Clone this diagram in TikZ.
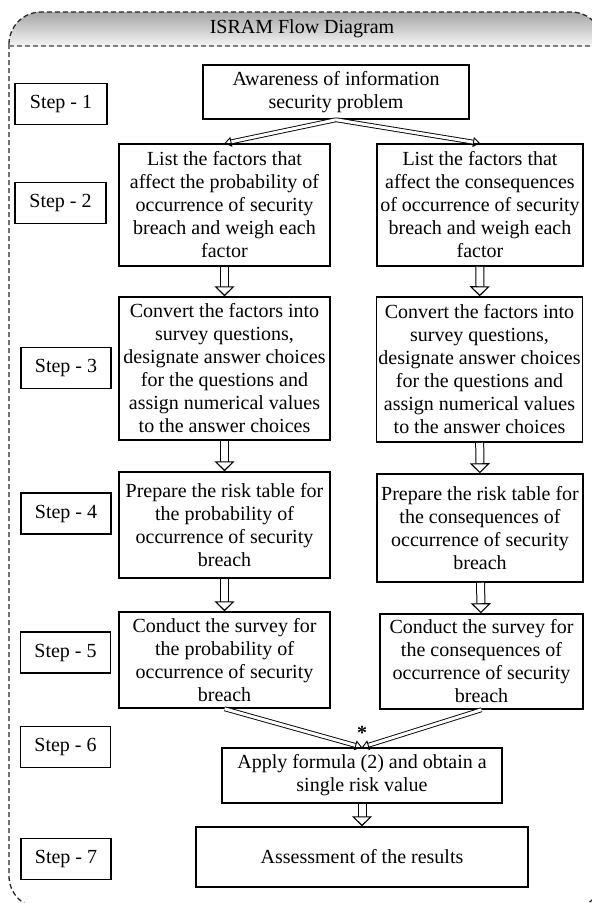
\documentclass[tikz,border=0pt]{standalone}
\usepackage{fontspec}
\setmainfont{Liberation Serif}
\usetikzlibrary{arrows.meta}

\begin{document}
\begin{tikzpicture}[x=1pt, y=-1pt,
        stepbox/.style={rectangle, draw, line width=1.5pt, minimum width=90pt, minimum height=41pt, inner sep=0pt, font=\fontsize{20}{23}\selectfont},
        flowbox/.style={rectangle, draw, line width=1.5pt, align=center, inner sep=0pt, minimum width=211pt, font=\fontsize{20}{23}\selectfont},
        hollow/.style={double, double distance=7pt, line width=1pt, -{Triangle[open, length=10pt, width=20pt, line width=1.1pt 0 0]}},
        slim/.style={double, double distance=3pt, line width=0.9pt, -{Triangle[open, length=7pt, width=10pt, line width=0.9pt 0 0]}},
        frameline/.style={dash pattern=on 5pt off 3pt, line width=1.3pt, draw=black!85}
    ]
        \useasboundingbox (0,0) rectangle (592,903);

        % Frame with shaded header
        \begin{scope}
            \clip[rounded corners=32pt] (9,12) rectangle (603,908);
            \shade[top color=gray!70, bottom color=gray!8] (9,12) rectangle (603,46);
        \end{scope}
        \draw[frameline, rounded corners=32pt] (9,12) rectangle (603,908);
        \draw[dash pattern=on 5pt off 3pt, line width=1.6pt, draw=gray] (9,46) -- (603,46);
        \node[font=\fontsize{20}{23}\selectfont] (title) at (302,29) {ISRAM Flow Diagram};

        % Step labels
        \node[stepbox, minimum width=92pt] (step1) at (61,104) {Step - 1};
        \node[stepbox, minimum width=91pt] (step2) at (60.5,203) {Step - 2};
        \node[stepbox] (step3) at (66,368) {Step - 3};
        \node[stepbox] (step4) at (66,513.5) {Step - 4};
        \node[stepbox] (step5) at (65.5,652.5) {Step - 5};
        \node[stepbox] (step6) at (65.5,747) {Step - 6};
        \node[stepbox] (step7) at (66,859) {Step - 7};

        % Flow boxes
        \node[flowbox, minimum width=266pt, minimum height=54pt] (aware) at (336,92) {Awareness of information\\security problem};
        \node[flowbox, minimum height=122pt] (list1) at (224.5,205) {List the factors that\\affect the probability of\\occurrence of security\\breach and weigh each\\factor};
        \node[flowbox, minimum width=206pt, minimum height=122pt] (list2) at (480,205) {List the factors that\\affect the consequences\\of occurrence of security\\breach and weigh each\\factor};
        \node[flowbox, minimum height=143pt] (conv1) at (224.5,368.5) {Convert the factors into\\survey questions,\\designate answer choices\\for the questions and\\assign numerical values\\to the answer choices};
        \node[flowbox, minimum width=206pt, minimum height=145pt] (conv2) at (479.5,369.5) {Convert the factors into\\survey questions,\\designate answer choices\\for the questions and\\assign numerical values\\to the answer choices};
        \node[flowbox, minimum height=106pt] (prep1) at (224.5,525) {Prepare the risk table for\\the probability of\\occurrence of security\\breach};
        \node[flowbox, minimum width=206pt, minimum height=108pt] (prep2) at (480,528) {Prepare the risk table for\\the consequences of\\occurrence of security\\breach};
        \node[flowbox, minimum height=96pt] (cond1) at (224.5,660) {Conduct the survey for\\the probability of\\occurrence of security\\breach};
        \node[flowbox, minimum width=203pt, minimum height=95pt] (cond2) at (481.5,661.5) {Conduct the survey for\\the consequences of\\occurrence of security\\breach};
        \node[flowbox, minimum width=280pt, minimum height=55pt] (apply) at (362,775.5) {Apply formula (2) and obtain a\\single risk value};
        \node[flowbox, minimum width=332pt, minimum height=60pt] (assess) at (362,857) {Assessment of the results};
        \node[inner sep=0pt, font=\fontsize{20}{23}\selectfont\bfseries] (star) at (362,733) {*};

        % Connectors
        \draw[slim] (aware.south) -- (list1.north);
        \draw[slim] (aware.south) -- (list2.north);
        \draw[hollow] (list1) -- (conv1);
        \draw[hollow] (list2) -- (conv2);
        \draw[hollow] (conv1) -- (prep1);
        \draw[hollow] (conv2) -- (prep2);
        \draw[hollow] (prep1) -- (cond1);
        \draw[hollow] (prep2) -- (cond2);
        \draw[slim] (cond1.south) -- (apply.north);
        \draw[slim] (cond2.south) -- (apply.north);
        \draw[hollow] (apply) -- (assess);

    \end{tikzpicture}
\end{document}
